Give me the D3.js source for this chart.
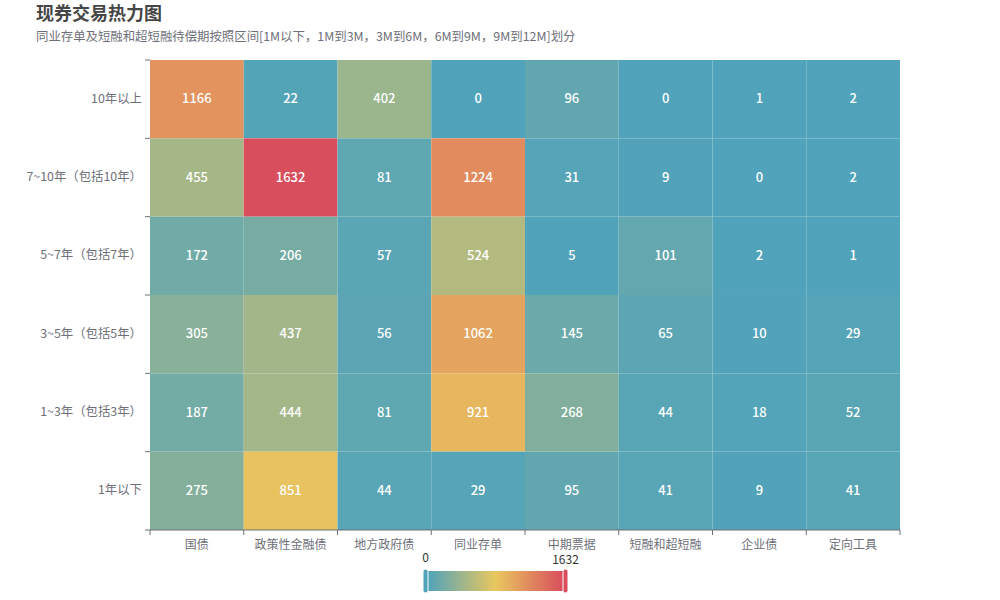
<!DOCTYPE html>
<html><head><meta charset="utf-8">
<script src="https://cdn.jsdelivr.net/npm/d3@7/dist/d3.min.js"></script>
<style>
html,body{margin:0;padding:0;background:#fff;}
svg text{font-family:'Microsoft YaHei','Noto Sans CJK SC',sans-serif;}
</style></head>
<body><svg id="c" width="1000" height="600"></svg>
<script>
const xCategories = ['国债','政策性金融债','地方政府债','同业存单','中期票据','短融和超短融','企业债','定向工具'];
const yCategories = ['10年以上','7~10年（包括10年）','5~7年（包括7年）','3~5年（包括5年）','1~3年（包括3年）','1年以下'];
const row10plus = [1166,22,402,0,96,0,1,2];
const row7to10  = [455,1632,81,1224,31,9,0,2];
const row5to7   = [172,206,57,524,5,101,2,1];
const row3to5   = [305,437,56,1062,145,65,10,29];
const row1to3   = [187,444,81,921,268,44,18,52];
const row1minus = [275,851,44,29,95,41,9,41];
const rows = [row10plus,row7to10,row5to7,row3to5,row1to3,row1minus];
const rangeMin = 0, rangeMax = 1632;
const rampColors = ['#50a3ba','#e9c75f','#d94e5d'];

const svg = d3.select('#c');
const L=150,R=900,T=60,B=530;
const x = d3.scaleBand().domain(xCategories).range([L,R]);
const y = d3.scaleBand().domain(yCategories).range([T,B]);
const color = d3.scaleLinear().domain([rangeMin,(rangeMin+rangeMax)/2,rangeMax]).range(rampColors).interpolate(d3.interpolateRgb).clamp(true);

const cells = [];
rows.forEach((r,i)=>r.forEach((v,j)=>cells.push({x:xCategories[j],y:yCategories[i],v})));

svg.append('text').attr('x',36).attr('y',20).attr('font-size',18).attr('font-weight','bold').attr('fill','#464646').text('现券交易热力图');
svg.append('text').attr('x',36).attr('y',41).attr('font-size',12.4).attr('fill','#6E7079').text('同业存单及短融和超短融待偿期按照区间[1M以下，1M到3M，3M到6M，6M到9M，9M到12M]划分');

svg.append('g').selectAll('rect').data(cells).join('rect')
  .attr('x',d=>x(d.x)).attr('y',d=>y(d.y)).attr('width',x.bandwidth()).attr('height',y.bandwidth())
  .attr('fill',d=>color(d.v)).attr('stroke','rgba(255,255,255,0.03)').attr('stroke-width',0.5);

svg.append('g').selectAll('text').data(cells).join('text')
  .attr('x',d=>x(d.x)+x.bandwidth()/2).attr('y',d=>y(d.y)+y.bandwidth()/2-1.5)
  .attr('text-anchor','middle').attr('dominant-baseline','central')
  .attr('font-size',13).attr('font-weight',500).attr('fill','#fff').text(d=>d.v);

// x axis
const gx = svg.append('g').attr('transform',`translate(0,${B})`);
gx.append('line').attr('x1',L).attr('x2',R).attr('stroke','#6E7079');
const xb = d3.range(xCategories.length+1).map(i=>L+i*x.step());
gx.selectAll('line.t').data(xb).join('line').attr('class','t').attr('x1',d=>d).attr('x2',d=>d).attr('y1',0).attr('y2',5).attr('stroke','#6E7079');
gx.selectAll('text').data(xCategories).join('text').attr('x',d=>x(d)+x.bandwidth()/2).attr('y',13).attr('text-anchor','middle').attr('dominant-baseline','central').attr('font-size',12).attr('fill','#6E7079').text(d=>d);

// y axis
const gy = svg.append('g');
const yb = d3.range(yCategories.length+1).map(i=>T+i*y.step());
gy.selectAll('line').data(yb).join('line').attr('x1',L-5).attr('x2',L).attr('y1',d=>d).attr('y2',d=>d).attr('stroke','#6E7079');
gy.selectAll('text').data(yCategories).join('text').attr('x',L-8).attr('y',d=>y(d)+y.bandwidth()/2-1.5).attr('text-anchor','end').attr('dominant-baseline','central').attr('font-size',12.4).attr('fill','#6E7079').text(d=>d);

// visual map
const vm = svg.append('g');
const vx0=428, vx1=563, vy=571, vh=20;
const defs = svg.append('defs');
const grad = defs.append('linearGradient').attr('id','vmg').attr('x1','0%').attr('x2','100%');
d3.range(0,1.0001,0.1).forEach(t=>grad.append('stop').attr('offset',(t*100)+'%').attr('stop-color',color(rangeMin+t*(rangeMax-rangeMin))));
const vs = d3.scaleLinear().domain([rangeMin,rangeMax]).range([vx0,vx1]);
vm.append('rect').attr('x',vs(rangeMin)).attr('y',vy).attr('width',vs(rangeMax)-vs(rangeMin)).attr('height',vh).attr('fill','url(#vmg)');
[rangeMin,rangeMax].forEach(v=>{
  vm.append('rect').attr('x',vs(v)-(v===rangeMin?5:0)).attr('y',vy-2).attr('width',5).attr('height',vh+4).attr('rx',2.5).attr('fill',color(v)).attr('stroke','#fff').attr('stroke-width',1);
  vm.append('text').attr('x',vs(v)-(v===rangeMin?2.5:-2.5)).attr('y',v===rangeMin?556:558).attr('text-anchor','middle').attr('dominant-baseline','central').attr('font-size',12).attr('fill','#333').text(v);
});
</script></body></html>
